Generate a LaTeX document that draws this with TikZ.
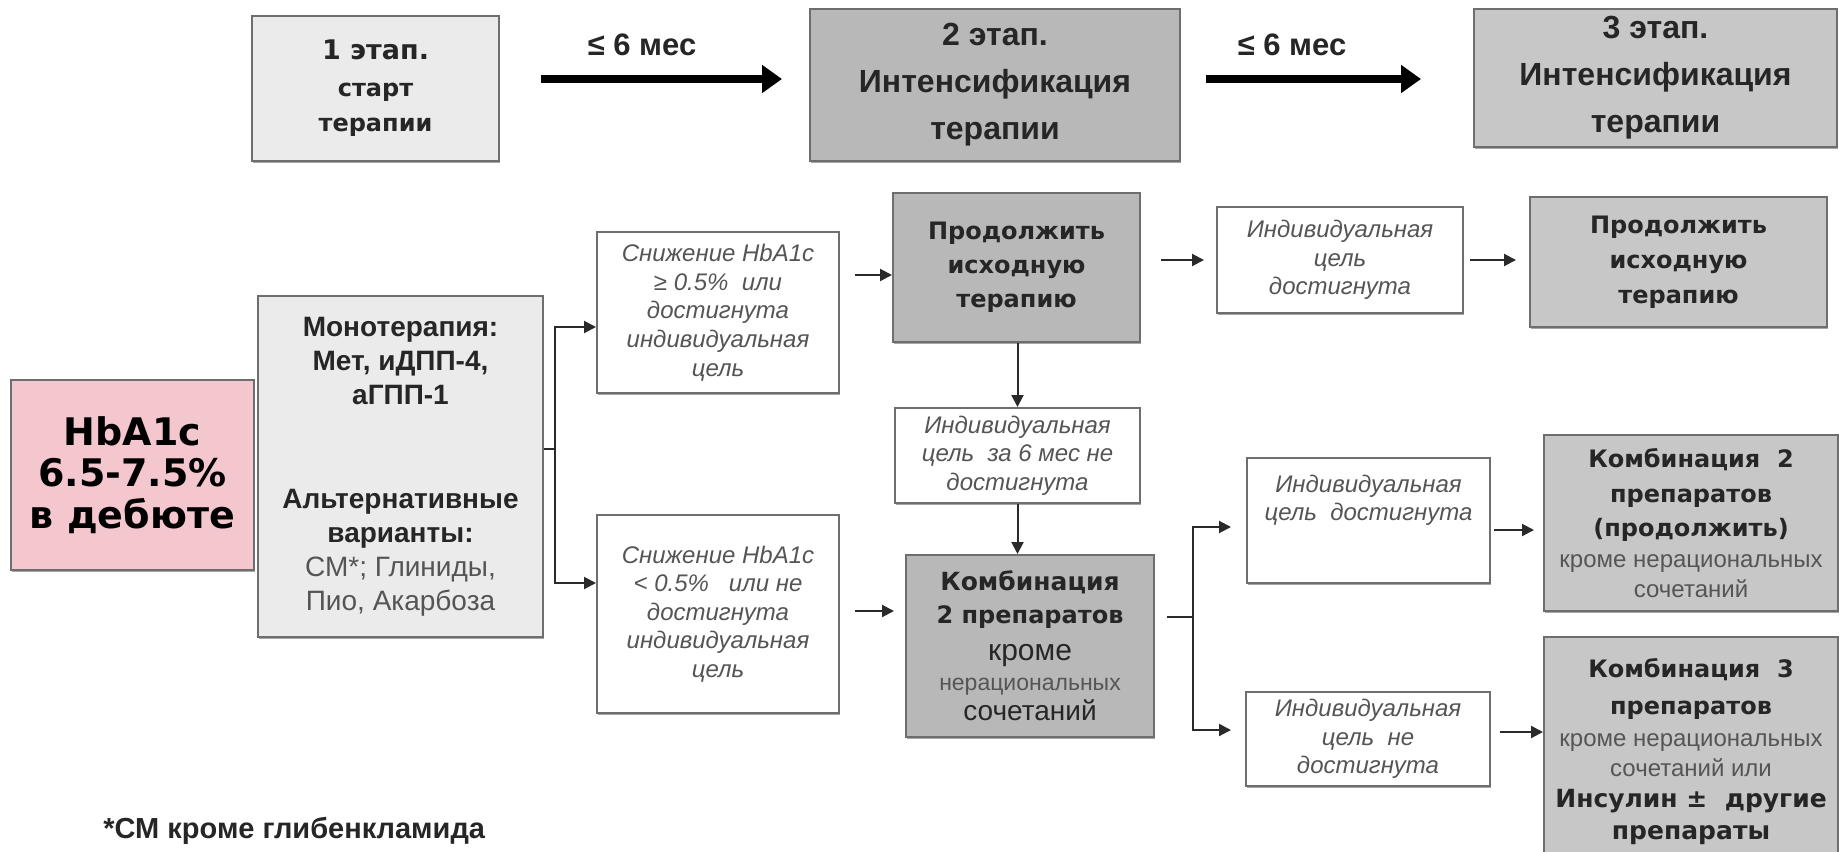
\documentclass[tikz,border=0pt]{standalone}
\usepackage{fontspec}
\setmainfont{Liberation Sans}
\newfontfamily\vf{DejaVu Sans}
\usetikzlibrary{arrows.meta,shadows}
\definecolor{bord}{HTML}{6E6E6E}
\definecolor{lgray}{HTML}{EBEBEB}
\definecolor{dgray}{HTML}{B8B8B8}
\definecolor{ggray}{HTML}{C7C7C7}
\definecolor{pinkc}{HTML}{F4C6CE}
\definecolor{txt}{HTML}{262626}
\definecolor{txtg}{HTML}{555555}
\definecolor{linec}{HTML}{2A2A2A}
\newcommand{\fsz}[2]{\fontsize{#1pt}{#2pt}\selectfont}
\begin{document}
\begin{tikzpicture}[x=0.5pt,y=-0.5pt,
  box/.style={draw=bord, line width=1pt, align=center, inner sep=0pt, text=txt,
    drop shadow={shadow xshift=0.7pt, shadow yshift=-1.2pt, fill=black, opacity=0.35}},
  wbox/.style={box, fill=white, text=txtg, font=\itshape\fsz{12}{14.3}},
  topbox/.style={box, font=\bfseries\fsz{16}{23.5}},
  gbox/.style={box, fill=ggray},
  lbl/.style={font=\bfseries\fsz{15.5}{18}, text=txt},
  conn/.style={draw=linec, line width=1pt},
  arr/.style={conn, -{Triangle[length=6pt,width=6pt]}},
  bigarr/.style={draw=black, line width=4pt, -{Triangle[length=10pt,width=13.5pt]}}
]
\fill[white] (0,0) rectangle (1839,851);
\useasboundingbox (0,0) rectangle (1839,851);

% top row
\node[box, fill=lgray, font=\vf\bfseries\fsz{12}{17.5}, minimum width=123.5pt, minimum height=72.5pt] (b1) at (375.5,88.5) {{\fsz{13.5}{17.5}1 этап.}\\[1pt]старт\\терапии};
\node[topbox, fill=dgray, minimum width=185pt, minimum height=76pt] (b2) at (995,85) {2 этап.\\Интенсификация\\терапии};
\node[topbox, fill=ggray, minimum width=181.5pt, minimum height=69pt] (b3) at (1655.5,78) {3 этап.\\Интенсификация\\терапии};
\node[lbl] (l1) at (642,45) {≤ 6 мес};
\node[lbl] (l2) at (1292,45) {≤ 6 мес};
\draw[bigarr, shorten <=20.5pt, shorten >=13.5pt] (b1.east |- 0,79) -- (b2.west |- 0,79);
\draw[bigarr, shorten <=12.5pt, shorten >=26pt] (b2.east |- 0,79) -- (b3.west |- 0,79);

% left column
\node[box, fill=pinkc, text=black, font=\vf\bfseries\fsz{19}{20.75}, minimum width=121.5pt, minimum height=95pt] (hb) at (132.5,475) {HbA1c\\6.5-7.5\%\\в дебюте};
\node[box, fill=lgray, font=\fsz{14}{17}, minimum width=142.5pt, minimum height=170.5pt] (mono) at (400.5,466.5)
  {\textbf{Монотерапия:}\\\textbf{Мет, иДПП-4,}\\\textbf{аГПП-1}\\[35pt]\textbf{Альтернативные}\\\textbf{варианты:}\\{\color{txtg}СМ*; Глиниды,}\\{\color{txtg}Пио, Акарбоза}};

% second column
\node[wbox, minimum width=121pt, minimum height=80.5pt] (sn1) at (718,312.5) {Снижение HbA1c\\≥ 0.5\%~~или\\достигнута\\индивидуальная\\цель};
\node[wbox, minimum width=121pt, minimum height=99pt] (sn2) at (718,614) {Снижение HbA1c\\< 0.5\%~~~или не\\достигнута\\индивидуальная\\цель};

\coordinate (mj) at (555,449);
\draw[conn] (mono.east |- mj) -- (mj);
\draw[arr] (mj) |- (sn1.west |- 0,327);
\draw[arr] (mj) |- (sn2.west |- 0,583);

% third column
\node[box, fill=dgray, font=\vf\bfseries\fsz{12}{17}, minimum width=123.5pt, minimum height=74.5pt] (pr1) at (1016.5,267.5) {Продолжить\\исходную\\терапию};
\node[wbox, minimum width=122.5pt, minimum height=47.5pt] (ig) at (1017.5,455.5) {Индивидуальная\\цель~~за 6 мес не\\достигнута};
\node[box, fill=dgray, font=\fsz{15}{15}, minimum width=124pt, minimum height=91pt] (c2) at (1030,646)
  {{\vf\bfseries\fsz{12.5}{15}Комбинация}\\[1.5pt]{\vf\bfseries\fsz{12}{15}2 препаратов}\\[3.5pt]кроме\\{\fsz{11.5}{15}\color{txtg}нерациональных}\\{\fsz{14}{15}сочетаний}};

\draw[arr, shorten <=7.5pt] (sn1.east |- 0,275) -- (pr1.west |- 0,275);
\draw[arr, shorten <=7.5pt, shorten >=5.5pt] (sn2.east |- 0,611) -- (c2.west |- 0,611);
\draw[arr] (ig.north |- pr1.south) -- (ig.north);
\draw[arr] (ig.south) -- (ig.south |- c2.north);

% fourth column
\node[wbox, minimum width=123pt, minimum height=53pt] (id1) at (1340,260) {Индивидуальная\\цель\\достигнута};
\node[wbox, minimum width=121.5pt, minimum height=62.5pt] (id2) at (1368.5,520.5) {Индивидуальная\\цель~~достигнута\\[8.5pt]\mbox{}};
\node[wbox, minimum width=122pt, minimum height=47pt] (ng) at (1368,739) {Индивидуальная\\цель~~не\\достигнута};

\draw[arr, shorten <=10pt, shorten >=6pt] (pr1.east |- 0,260) -- (id1.west |- 0,260);
\coordinate (cj) at (1193,617);
\draw[conn, shorten <=6pt] (c2.east |- cj) -- (cj);
\draw[arr, shorten >=7.5pt] (cj) |- (id2.west |- 0,527);
\draw[arr, shorten >=7pt] (cj) |- (ng.west |- 0,730);

% right column
\node[gbox, font=\vf\bfseries\fsz{12}{17.5}, minimum width=148.5pt, minimum height=65pt] (pr2) at (1678.5,262) {Продолжить\\исходную\\терапию};
\node[gbox, font=\vf\bfseries\fsz{12}{16}, minimum width=147pt, minimum height=88pt] (c2c) at (1691,523)
  {Комбинация~~2\\[1.5pt]препаратов\\[1pt](продолжить)\\[-0.5pt]{\rmfamily\mdseries\color{txtg}\fsz{12}{16}кроме нерациональных}\\[-1pt]{\rmfamily\mdseries\color{txtg}\fsz{12}{16}сочетаний}};
\node[gbox, font=\vf\bfseries\fsz{12}{16}, minimum width=147pt, minimum height=114.5pt] (c3) at (1691,751.5)
  {Комбинация~~3\\[2.5pt]препаратов\\{\rmfamily\mdseries\color{txtg}\fsz{12}{16}кроме нерациональных}\\[-1pt]{\rmfamily\mdseries\color{txtg}\fsz{12}{16}сочетаний или}\\[-0.5pt]{\fsz{12.5}{16}Инсулин ±~~другие}\\{\fsz{12.5}{16}препараты}};

\draw[arr, shorten <=3pt, shorten >=6.5pt] (id1.east |- 0,260) -- (pr2.west |- 0,260);
\draw[arr, shorten <=1.5pt, shorten >=4.5pt] (id2.east |- 0,530) -- (c2c.west |- 0,530);
\draw[arr, shorten <=4.5pt] (ng.east |- 0,732) -- (c3.west |- 0,732);

% footnote
\node[anchor=base west, inner sep=0pt, font=\bfseries\fsz{14.5}{18}, text=txt] (fn) at (103,838) {*СМ кроме глибенкламида};
\end{tikzpicture}
\end{document}
